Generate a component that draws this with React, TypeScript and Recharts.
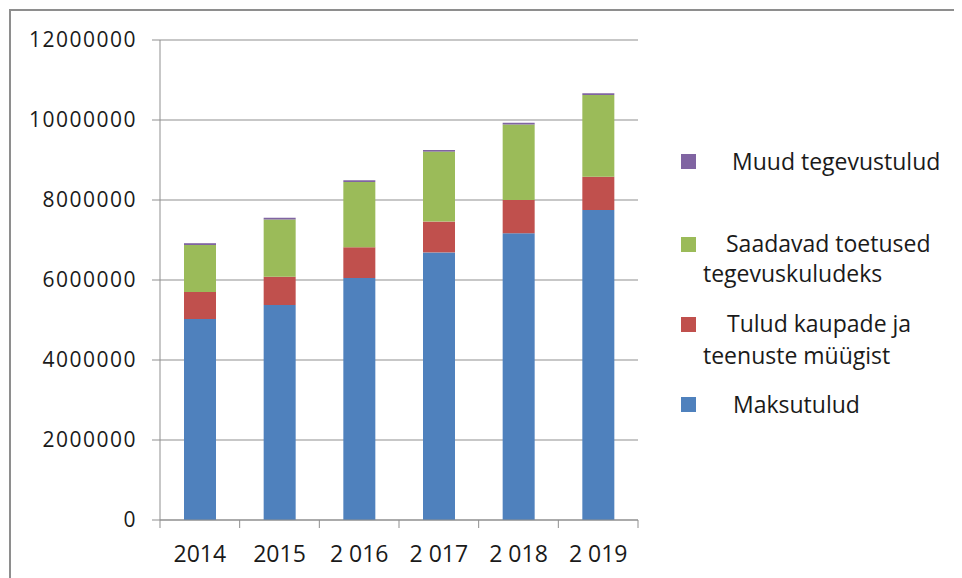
import React from 'react';
import { BarChart, Bar, XAxis, YAxis, CartesianGrid, Legend } from 'recharts';

const years = ['2014', '2015', '2 016', '2 017', '2 018', '2 019'];
const maksutulud = [5025000, 5375000, 6050000, 6690000, 7170000, 7750000];
const tuludKaupadest = [675000, 705000, 770000, 770000, 830000, 830000];
const toetused = [1175000, 1430000, 1630000, 1750000, 1890000, 2045000];
const muudTulud = [45000, 45000, 45000, 40000, 40000, 45000];
const yTicks = [0, 2000000, 4000000, 6000000, 8000000, 10000000, 12000000];

const data = years.map((year, i) => ({
  year,
  maks: maksutulud[i],
  tulud: tuludKaupadest[i],
  toetused: toetused[i],
  muud: muudTulud[i],
}));

const gray = '#8f8f8f';
const textColor = '#1a1a1a';

// legend entries, top to bottom as in the original
const legendItems = [
  { color: '#8064A2', box: 8, lines: [{ text: 'Muud tegevustulud', left: 56, top: 0 }] },
  {
    color: '#9BBB59',
    box: 91,
    lines: [
      { text: 'Saadavad toetused', left: 50, top: 82 },
      { text: 'tegevuskuludeks', left: 27, top: 112 },
    ],
  },
  {
    color: '#C0504D',
    box: 171,
    lines: [
      { text: 'Tulud kaupade ja', left: 51, top: 162 },
      { text: 'teenuste müügist', left: 27, top: 194 },
    ],
  },
  { color: '#4F81BD', box: 251, lines: [{ text: 'Maksutulud', left: 57, top: 243 }] },
];

const renderLegend = () => (
  <div style={{ position: 'relative', width: 280, height: 290, fontFamily: '"Open Sans"', fontSize: 23, color: textColor }}>
    {legendItems.map((item, i) => (
      <React.Fragment key={i}>
        <div style={{ position: 'absolute', left: 5, top: item.box, width: 15, height: 15, background: item.color }} />
        {item.lines.map((l, j) => (
          <div key={j} style={{ position: 'absolute', left: l.left, top: l.top, lineHeight: '30px', whiteSpace: 'nowrap' }}>
            {l.text}
          </div>
        ))}
      </React.Fragment>
    ))}
  </div>
);

const XTick = (props: any) => {
  const { x, y, payload, index, visibleTicksCount } = props;
  const half = payload && payload.offset ? payload.offset : 39.8;
  const axisY = y - 26;
  const last = index === visibleTicksCount - 1;
  return (
    <g>
      <line x1={x - half} x2={x - half} y1={axisY} y2={axisY + 8} stroke={gray} />
      {last && <line x1={x + half} x2={x + half} y1={axisY} y2={axisY + 8} stroke={gray} />}
      <text x={x} y={y} dy="0.71em" textAnchor="middle" fill={textColor} fontSize={23} fontFamily='"Open Sans"'>
        {payload.value}
      </text>
    </g>
  );
};

export default function App() {
  return (
    <div style={{ margin: '1px 0 0 1px', border: '2px solid #8e8e8e', width: 960, height: 600, background: '#fff' }}>
      <BarChart
        width={948}
        height={570}
        data={data}
        margin={{ top: 29, right: 321, left: 0, bottom: 6 }}
        barSize={32}
      >
        <CartesianGrid vertical={false} stroke={gray} strokeWidth={1} />
        <XAxis
          dataKey="year"
          height={55}
          tickLine={false}
          tickSize={8}
          tickMargin={18}
          axisLine={{ stroke: gray }}
          tick={<XTick />}
          interval={0}
        />
        <YAxis
          width={149}
          domain={[0, 12000000]}
          ticks={yTicks}
          tickSize={8}
          tickMargin={15}
          axisLine={{ stroke: gray }}
          tickLine={{ stroke: gray }}
          tickFormatter={(v: number) => String(v)}
          tick={{ fill: textColor, fontSize: 21, fontFamily: '"Open Sans"', letterSpacing: 1.5 }}
        />
        <Legend
          layout="vertical"
          align="center"
          verticalAlign="middle"
          content={renderLegend}
          wrapperStyle={{ left: 665, top: 135, width: 280, height: 290 }}
        />
        <Bar dataKey="maks" name="Maksutulud" stackId="a" fill="#4F81BD" isAnimationActive={false} />
        <Bar dataKey="tulud" name="Tulud kaupade ja teenuste müügist" stackId="a" fill="#C0504D" isAnimationActive={false} />
        <Bar dataKey="toetused" name="Saadavad toetused tegevuskuludeks" stackId="a" fill="#9BBB59" isAnimationActive={false} />
        <Bar dataKey="muud" name="Muud tegevustulud" stackId="a" fill="#8064A2" isAnimationActive={false} />
      </BarChart>
    </div>
  );
}
